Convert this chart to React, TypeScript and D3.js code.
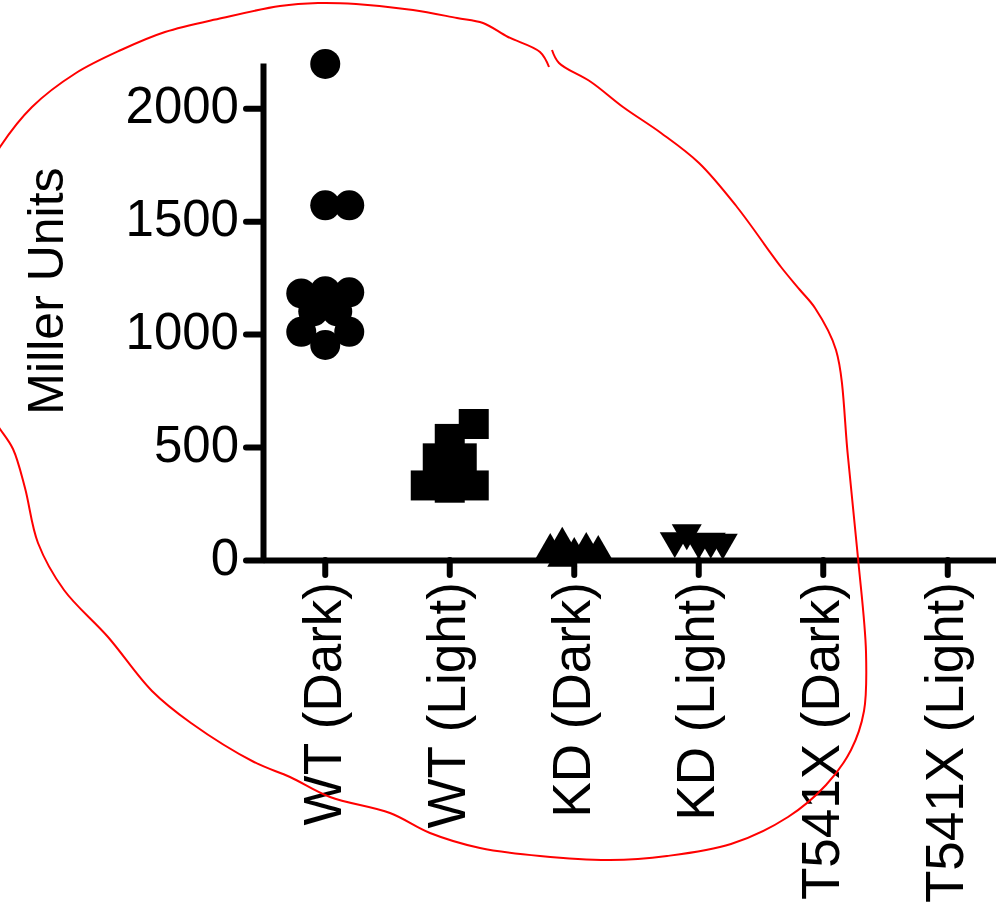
import { useEffect, useRef } from 'react';
import * as d3 from 'd3';

const categories = ['WT (Dark)', 'WT (Light)', 'KD (Dark)', 'KD (Light)', 'T541X (Dark)', 'T541X (Light)'];
const symbolKinds = ['circle', 'square', 'triangle', 'triangleDown', 'circle', 'circle'];

// replicates per group (Miller units), in the order they are laid out
const wtDark = [2196, 1570, 1570, 1190, 1185, 1180, 952, 1100, 1100, 1010, 1010];
const wtLight = [536, 602, 450, 450, 320, 330, 330];
const kdDark = [25, 47, 70, 34, 43, 8];
const kdLight = [80, 82, 120, 78, 85];
const t541xDark: number[] = [];
const t541xLight: number[] = [];
const groups = [wtDark, wtLight, kdDark, kdLight, t541xDark, t541xLight];

const yTicks = [0, 500, 1000, 1500, 2000];
const yMax = 2200;
const yLabel = 'Miller Units';

// hand-drawn red loop over the figure (page pixels)
const loopUpper: [number, number][] = [
  [-6, 158], [0, 147], [32, 107], [76, 73], [121, 50], [165, 32], [222, 18], [280, 6],
  [318, 3], [356, 4], [413, 10], [457, 18], [483, 23], [508, 37], [540, 52], [549, 67],
];
const loopLower: [number, number][] = [
  [552, 50], [559, 63], [591, 82], [623, 107], [661, 133], [699, 163], [737, 207],
  [781, 267], [800, 290], [815, 308], [836, 350], [848, 457], [858, 558], [866, 652],
  [864, 711], [851, 750], [826, 785], [788, 817], [731, 844], [667, 856], [610, 860],
  [540, 856], [480, 848], [430, 833], [390, 813], [330, 797], [290, 777], [254, 762],
  [191, 723], [152, 691], [108, 637], [64, 590], [38, 543], [25, 488], [13, 449], [0, 429], [-6, 420],
];

const font = "'Liberation Sans', Arial, Helvetica, sans-serif";

// Prism-like scatter: put each point at the first free horizontal slot
function dodge(values: number[], y: (v: number) => number, step: number, minDist: number) {
  const placed: { x: number; y: number }[] = [];
  return values.map((v) => {
    const py = y(v);
    for (let k = 0; k < 50; k++) {
      const cands = k === 0 ? [0] : [k * step, -k * step];
      for (const cx of cands) {
        if (placed.every((p) => Math.hypot(p.x - cx, p.y - py) >= minDist)) {
          placed.push({ x: cx, y: py });
          return { value: v, dx: cx, y: py };
        }
      }
    }
    return { value: v, dx: 0, y: py };
  });
}

const App = () => {
  const svgRef = useRef<SVGSVGElement>(null);

  useEffect(() => {
    if (!svgRef.current) return;
    const svg = d3.select(svgRef.current);
    svg.selectAll('*').remove();

    const x = d3.scaleBand<string>().domain(categories).range([263, 1010]);
    const y = d3.scaleLinear().domain([0, yMax]).range([560, 63]);

    // y axis
    const yAxis = svg.append('g')
      .attr('transform', 'translate(263,0)')
      .call(d3.axisLeft(y).tickValues(yTicks).tickFormat(d3.format('d')).tickSize(17).tickSizeOuter(0).tickPadding(7));
    yAxis.attr('font-size', 51).attr('font-family', font);
    yAxis.select('.domain').attr('stroke', '#000').attr('stroke-width', 6);
    yAxis.selectAll('.tick line').attr('stroke', '#000').attr('stroke-width', 6).attr('stroke-linecap', 'round');
    yAxis.selectAll('.tick text').attr('fill', '#000').attr('dy', '0.29em');

    // x axis
    const xAxis = svg.append('g')
      .attr('transform', 'translate(0,560)')
      .call(d3.axisBottom(x).tickSize(15).tickSizeOuter(0));
    xAxis.attr('font-size', 53).attr('font-family', font);
    xAxis.select('.domain').attr('stroke', '#000').attr('stroke-width', 6);
    xAxis.selectAll('.tick line').attr('stroke', '#000').attr('stroke-width', 6).attr('stroke-linecap', 'round');
    xAxis.selectAll('.tick text')
      .attr('fill', '#000')
      .attr('x', -22)
      .attr('y', 0)
      .attr('dy', '0.29em')
      .attr('transform', 'rotate(-90)')
      .style('text-anchor', 'end');

    svg.append('text')
      .attr('transform', 'translate(63,291) rotate(-90)')
      .attr('text-anchor', 'middle')
      .attr('font-family', font)
      .attr('font-size', 50)
      .attr('fill', '#000')
      .text(yLabel);

    // points
    const shapes: Record<string, { path: string; rotate: number; minDist: number }> = {
      circle: { path: d3.symbol(d3.symbolCircle, Math.PI * 15 * 15)()!, rotate: 0, minDist: 21 },
      square: { path: d3.symbol(d3.symbolSquare, 30 * 30)()!, rotate: 0, minDist: 21 },
      triangle: { path: d3.symbol(d3.symbolTriangle, 75 * 3 * Math.sqrt(3))()!, rotate: 0, minDist: 11 },
      triangleDown: { path: d3.symbol(d3.symbolTriangle, 75 * 3 * Math.sqrt(3))()!, rotate: 180, minDist: 11 },
    };

    categories.forEach((cat, i) => {
      const shape = shapes[symbolKinds[i]];
      const cx = x(cat)! + x.bandwidth() / 2;
      const pts = dodge(groups[i], y, 12, shape.minDist);
      svg.append('g')
        .selectAll('path')
        .data(pts)
        .join('path')
        .attr('d', shape.path)
        .attr('transform', (d) => `translate(${cx + d.dx},${d.y}) rotate(${shape.rotate})`)
        .attr('fill', '#000')
        .append('title')
        .text((d) => `${cat}: ${d.value}`);
    });

    // red annotation loop
    const pen = d3.line().curve(d3.curveCatmullRom.alpha(0.5));
    svg.append('g')
      .selectAll('path')
      .data([loopUpper, loopLower])
      .join('path')
      .attr('d', (d) => pen(d))
      .attr('fill', 'none')
      .attr('stroke', '#f00')
      .attr('stroke-width', 2);
  }, []);

  return (
    <svg
      ref={svgRef}
      width={996}
      height={914}
      style={{ position: 'absolute', left: 0, top: 0, background: '#fff' }}
    />
  );
};

export default App;
